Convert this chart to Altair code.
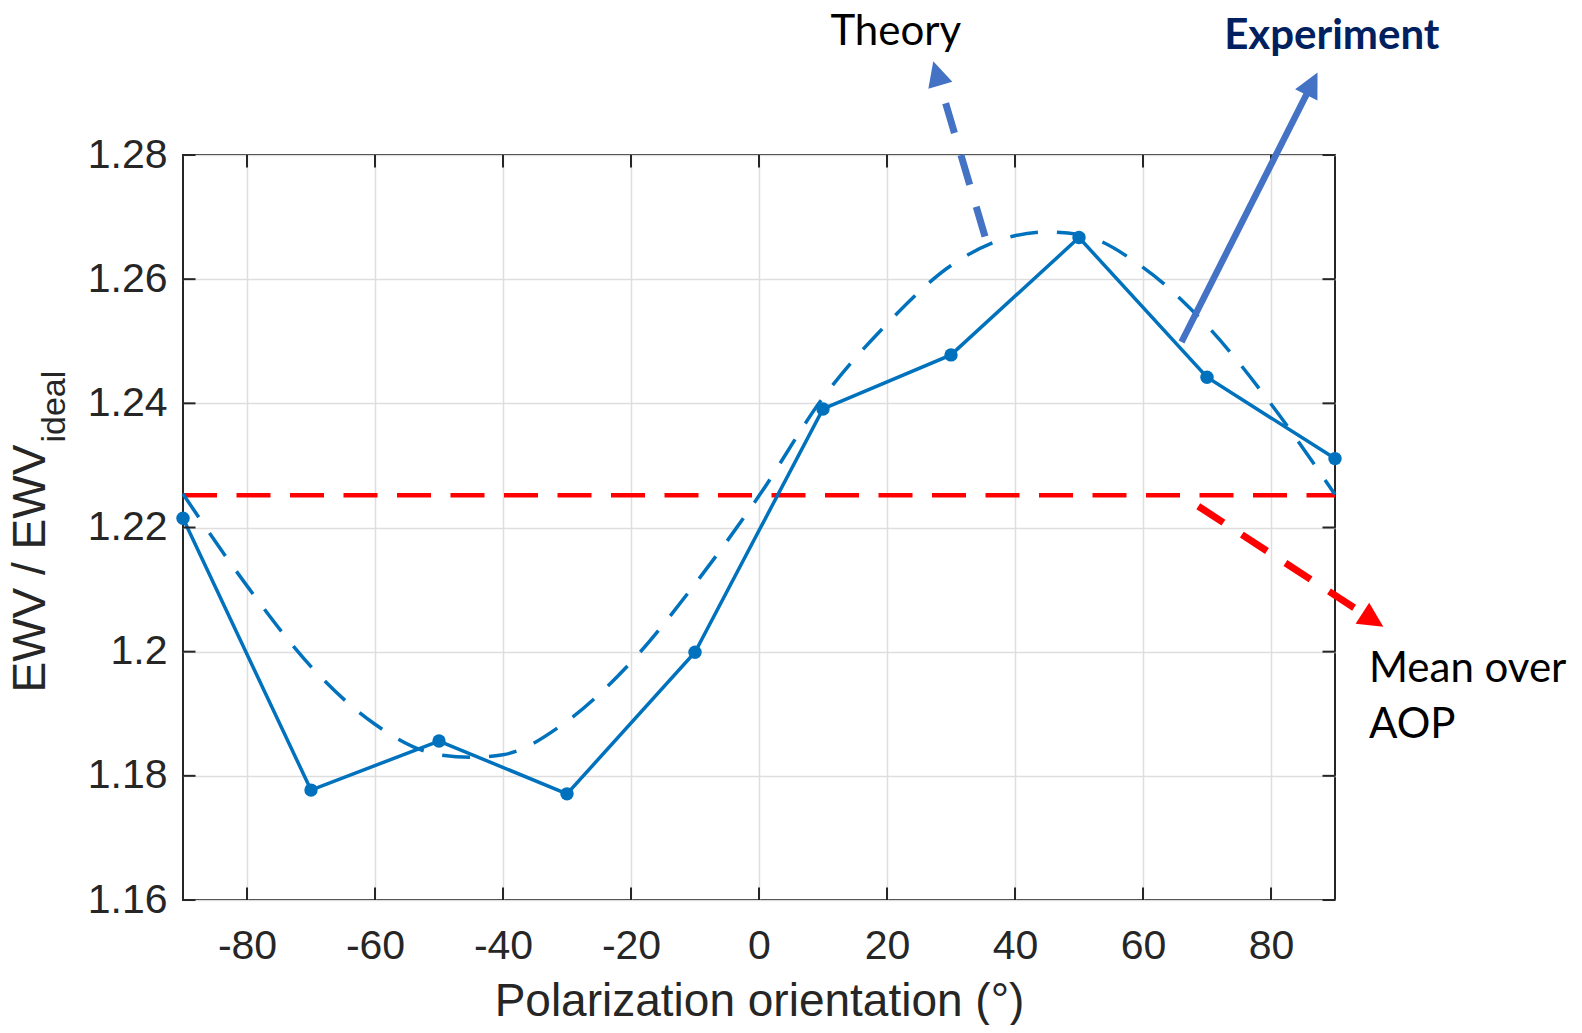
import math
import altair as alt
import pandas as pd

# ---------------- data ----------------
exp_angle = [-90, -70, -50, -30, -10, 10, 30, 50, 70, 90]
exp_value = [1.2215, 1.1777, 1.1856, 1.1771, 1.1999, 1.2391, 1.2478, 1.2667, 1.2442, 1.2311]

theory_angle = [-90, -80, -70, -60, -50, -45, -40, -30, -20, -10, 0,
                10, 20, 30, 40, 45, 50, 60, 70, 80, 90]
theory_value = [1.2254, 1.2106, 1.1976, 1.1883, 1.1834, 1.1830, 1.1834, 1.1888, 1.1983, 1.2109, 1.2251,
                1.2409, 1.2528, 1.2622, 1.2670, 1.2676, 1.2672, 1.2619, 1.2525, 1.2399, 1.2253]

mean_value = 1.2252

x_ticks = [-80, -60, -40, -20, 0, 20, 40, 60, 80]
y_ticks = [1.16, 1.18, 1.20, 1.22, 1.24, 1.26, 1.28]

x_domain = [-90, 90]
y_domain = [1.16, 1.28]

# annotation arrows (data coordinates): tail -> tip
arrow_names = ["theory", "experiment", "mean"]
arrow_tail_x = [35.31, 66.02, 68.64]
arrow_tail_y = [1.26687, 1.24988, 1.22343]
arrow_tip_x = [27.23, 87.27, 97.55]
arrow_tip_y = [1.29511, 1.29329, 1.20400]

# annotation labels (data coordinates)
theory_label = ("Theory", 21.375, 1.29770)
experiment_label = ("Experiment", 89.5, 1.29715)
mean_labels = ["Mean over", "AOP"]
mean_label_x = [95.31, 95.31]
mean_label_y = [1.19514, 1.18612]
ytitle_main = ("EWV / EWV", -111.55, 1.19342)
ytitle_sub = ("ideal", -108.45, 1.23369)

# ---------------- layout ----------------
W, H = 1152, 745
PX_PER_X = W / (x_domain[1] - x_domain[0])
PX_PER_Y = H / (y_domain[1] - y_domain[0])
HEAD = 25.0

BLUE = "#0072BD"
ARROW_BLUE = "#4472C4"
RED = "#FF0000"
AX = "#262626"

xs = alt.Scale(domain=x_domain, nice=False, zero=False)
ys = alt.Scale(domain=y_domain, nice=False, zero=False)

exp_df = pd.DataFrame({"a": exp_angle, "v": exp_value})
th_df = pd.DataFrame({"a": theory_angle, "v": theory_value})
mean_df = pd.DataFrame({"a": [x_domain[0]], "a2": [x_domain[1]], "v": [mean_value]})

base_x = alt.X("a:Q", scale=xs,
               axis=alt.Axis(values=x_ticks, title="Polarization orientation (°)",
                             grid=True, ticks=False, domain=False,
                             labelPadding=26, labelFlush=False,
                             labelExpr="datum.value + ''",
                             titleBaseline="alphabetic", titleY=115, titleX=W / 2))
base_y = alt.Y("v:Q", scale=ys,
               axis=alt.Axis(values=y_ticks, title=None, grid=True, ticks=False, domain=False,
                             labelPadding=16, labelExpr="format(datum.value, '~g')"))

mean_line = alt.Chart(mean_df).mark_rule(color=RED, strokeWidth=4.5, strokeDash=[34, 19.5],
                                         strokeCap="butt").encode(
    x=base_x, x2="a2:Q", y=base_y)

theory = alt.Chart(th_df).mark_line(color=BLUE, strokeWidth=3.5, strokeDash=[28, 19],
                                    interpolate="monotone").encode(
    x=alt.X("a:Q", scale=xs), y=alt.Y("v:Q", scale=ys))

exp_line = alt.Chart(exp_df).mark_line(color=BLUE, strokeWidth=3.5).encode(
    x=alt.X("a:Q", scale=xs), y=alt.Y("v:Q", scale=ys))
exp_pts = alt.Chart(exp_df).mark_circle(color=BLUE, size=180, opacity=1).encode(
    x=alt.X("a:Q", scale=xs), y=alt.Y("v:Q", scale=ys))

# inward ticks (MATLAB style box)
TL = 12.5
xt_df = pd.DataFrame({"a": x_ticks})
yt_df = pd.DataFrame({"v": y_ticks})
tick_layers = []
for yv, off in [(y_domain[0], -TL / 2), (y_domain[1], TL / 2)]:
    tick_layers.append(alt.Chart(xt_df).mark_tick(orient="vertical", size=TL, thickness=2,
                                                   color=AX, yOffset=off, opacity=1).encode(
        x=alt.X("a:Q", scale=xs), y=alt.datum(yv, scale=ys)))
for xv, off in [(x_domain[0], TL / 2), (x_domain[1], -TL / 2)]:
    tick_layers.append(alt.Chart(yt_df).mark_tick(orient="horizontal", size=TL, thickness=2,
                                                   color=AX, xOffset=off, opacity=1).encode(
        y=alt.Y("v:Q", scale=ys), x=alt.datum(xv, scale=xs)))

# arrows
arrow_style = {
    "theory": dict(color=ARROW_BLUE, strokeWidth=7, strokeDash=[31, 23]),
    "experiment": dict(color=ARROW_BLUE, strokeWidth=6.5),
    "mean": dict(color=RED, strokeWidth=7, strokeDash=[30, 22]),
}
arrow_layers = []
for i, name in enumerate(arrow_names):
    dxp = (arrow_tip_x[i] - arrow_tail_x[i]) * PX_PER_X
    dyp = -(arrow_tip_y[i] - arrow_tail_y[i]) * PX_PER_Y
    L = math.hypot(dxp, dyp)
    ux, uy = dxp / L, dyp / L
    base_x_d = arrow_tip_x[i] - ux * (HEAD - 1) / PX_PER_X
    base_y_d = arrow_tip_y[i] + uy * (HEAD - 1) / PX_PER_Y
    ang = math.degrees(math.atan2(dxp, -dyp)) % 360
    sdf = pd.DataFrame({"a": [arrow_tail_x[i]], "v": [arrow_tail_y[i]],
                        "a2": [base_x_d], "v2": [base_y_d]})
    arrow_layers.append(alt.Chart(sdf).mark_rule(strokeCap="butt", **arrow_style[name]).encode(
        x=alt.X("a:Q", scale=xs), y=alt.Y("v:Q", scale=ys), x2="a2:Q", y2="v2:Q"))
    hdf = pd.DataFrame({"a": [arrow_tip_x[i]], "v": [arrow_tip_y[i]]})
    arrow_layers.append(alt.Chart(hdf).mark_point(shape="M0,0L1,2L-1,2Z", filled=True,
                                                  size=HEAD * HEAD, angle=ang, opacity=1,
                                                  color=arrow_style[name]["color"],
                                                  strokeWidth=0).encode(
        x=alt.X("a:Q", scale=xs), y=alt.Y("v:Q", scale=ys)))

# texts
def text_layer(labels, xs_, ys_, **kw):
    df = pd.DataFrame({"t": labels, "a": xs_, "v": ys_})
    return alt.Chart(df).mark_text(**kw).encode(
        x=alt.X("a:Q", scale=xs), y=alt.Y("v:Q", scale=ys), text="t:N")

t_theory = text_layer([theory_label[0]], [theory_label[1]], [theory_label[2]],
                      font="Lato", fontSize=42, color="#000000", align="center",
                      baseline="alphabetic")
t_exp = text_layer([experiment_label[0]], [experiment_label[1]], [experiment_label[2]],
                   font="Lato", fontSize=42, fontWeight="bold", color="#002060",
                   align="center", baseline="alphabetic")
t_mean = text_layer(mean_labels, mean_label_x, mean_label_y,
                    font="Lato", fontSize=42, color="#000000", align="left",
                    baseline="alphabetic")
t_y1 = text_layer([ytitle_main[0]], [ytitle_main[1]], [ytitle_main[2]],
                  font="Liberation Sans", fontSize=46, color=AX, align="left",
                  baseline="alphabetic", angle=270)
t_y2 = text_layer([ytitle_sub[0]], [ytitle_sub[1]], [ytitle_sub[2]],
                  font="Liberation Sans", fontSize=34, color=AX, align="left",
                  baseline="alphabetic", angle=270)

chart = alt.layer(mean_line, theory, exp_line, exp_pts, *tick_layers, *arrow_layers,
                  t_theory, t_exp, t_mean, t_y1, t_y2).properties(
    width=W, height=H,
    autosize=alt.AutoSizeParams(type="none"),
    padding={"left": 175, "top": 147, "right": 239, "bottom": 125},
    background="white",
).configure_view(stroke=AX, strokeWidth=2).configure_axis(
    gridColor="#dedede", gridWidth=1.5, gridOpacity=1,
    labelFont="Liberation Sans", labelFontSize=41, labelColor=AX,
    titleFont="Liberation Sans", titleFontSize=46, titleFontWeight="normal", titleColor=AX,
)

chart.save("out.html", embed_options={"renderer": "svg", "actions": False})
